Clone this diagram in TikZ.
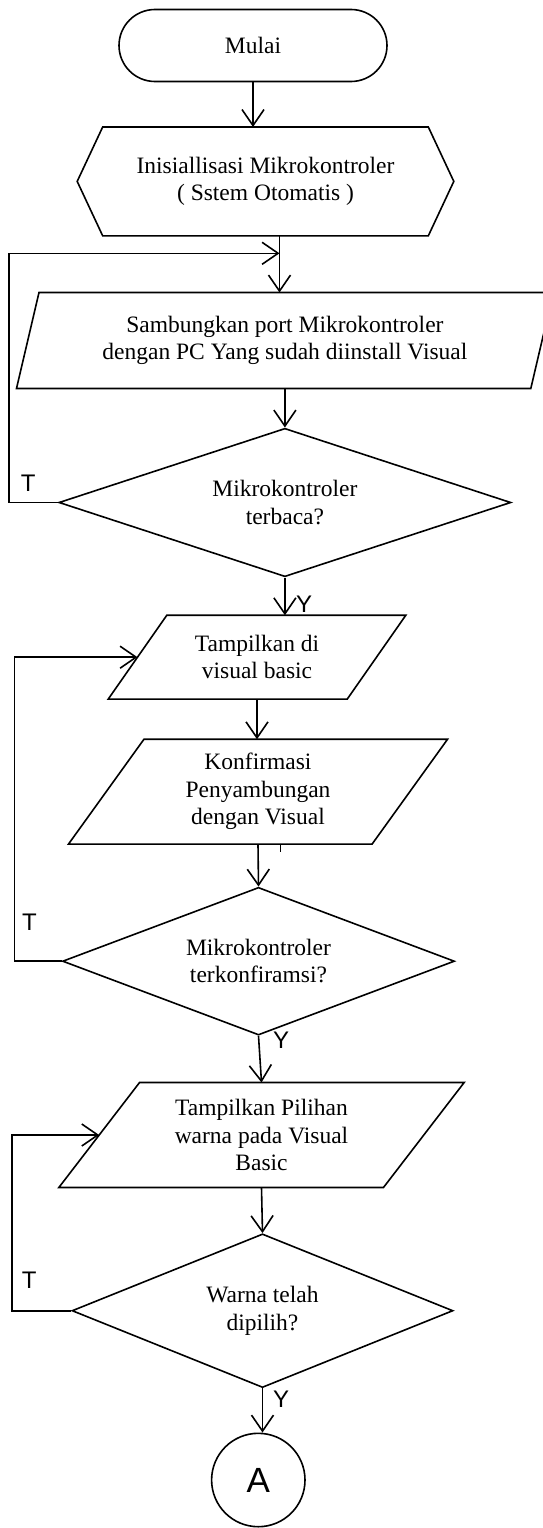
\documentclass[tikz,border=0pt]{standalone}
\usepackage{fontspec}
\setmainfont{Liberation Serif}
\setsansfont{Liberation Sans}
\usepackage{tikz}
\usetikzlibrary{arrows.meta,shapes.geometric,positioning,calc}

% slanted input/output box drawn round a plain node
\newcommand{\ioshape}[2]{\draw ([xshift=#2]#1.north west) -- (#1.north east) -- ([xshift=-#2]#1.south east) -- (#1.south west) -- cycle;}

\begin{document}
\begin{tikzpicture}[x=1pt,y=-1pt,line width=1.6pt,
  every node/.style={inner sep=0pt,align=center,font=\fontsize{23.5}{27.5}\selectfont},
  term/.style={draw,rectangle,rounded corners=36pt},
  box/.style={rectangle},
  decision/.style={draw,diamond,aspect=3},
  conn/.style={draw,circle,font=\sffamily\fontsize{35}{40}\selectfont},
  yt/.style={font=\sffamily\fontsize{24}{28}\selectfont},
  flow/.style={-{Straight Barb[length=16pt,width=22pt]}}]
\clip (0,0) rectangle (543,1528);

\node[term,minimum width=268pt,minimum height=72pt] (start) at (253,45.5) {Mulai};
\node[box,minimum width=375pt,minimum height=107.3pt] (init) at (265.5,181.4) {Inisiallisasi Mikrokontroler\\( Sstem Otomatis )};
\node[box,minimum width=535.2pt,minimum height=94.4pt] (port) at (284.9,340.5) {Sambungkan port Mikrokontroler\\dengan PC Yang sudah diinstall Visual};
\node[decision,minimum width=452pt,minimum height=148.4pt] (cekport) at (284.9,502.5) {Mikrokontroler\\terbaca?};
\node[box,minimum width=296pt,minimum height=82.3pt] (tampil) at (257,657.2) {Tampilkan di\\visual basic};
\node[box,minimum width=377.5pt,minimum height=103.3pt] (konfirm) at (258,791.7) {Konfirmasi\\Penyambungan\\dengan Visual};
\node[decision,minimum width=392pt,minimum height=147.7pt] (cekkonf) at (258.5,961.2) {Mikrokontroler\\terkonfiramsi?};
\node[box,minimum width=403.7pt,minimum height=103.4pt] (pilih) at (261.5,1135) {Tampilkan Pilihan\\warna pada Visual\\Basic};
\node[decision,minimum width=381pt,minimum height=153.7pt] (cekwarna) at (262.5,1310.7) {Warna telah\\dipilih?};
\node[conn,minimum size=93.4pt] (A) at (258.3,1480) {A};

% outlines
\draw (init.west) -- ([xshift=25.5pt]init.north west) -- ([xshift=-25.5pt]init.north east) -- (init.east) -- ([xshift=-25.5pt]init.south east) -- ([xshift=25.5pt]init.south west) -- cycle;
\ioshape{port}{22.5pt}
\ioshape{tampil}{58.6pt}
\ioshape{konfirm}{75.5pt}
\ioshape{pilih}{80.7pt}

% labels
\node[yt] (t1) at (28.3,483) {T};
\node[yt] (t2) at (29.5,922.5) {T};
\node[yt] (t3) at (29.3,1280.5) {T};
\node[yt] (y1) at (304,604) {Y};
\node[yt] (y2) at (281,1040) {Y};
\node[yt] (y3) at (281,1399) {Y};

% loop corners
\coordinate (j1) at (279.5,253.3);
\coordinate (l1) at (8.7,253.3);
\coordinate (l2) at (14.5,657.2);
\coordinate (l3) at (12.1,1135);
\coordinate (tampilL) at ($(tampil.west)+(29.3,0)$);
\coordinate (pilihL) at ($(pilih.west)+(40.35,0)$);

\draw[flow] (start.south) -- (start.south |- init.north);
\draw[flow] (j1 |- init.south) -- (j1 |- port.north);
\draw[flow] (cekport.west) -| (l1) -- (j1);
\draw[flow] (port.south) -- (cekport.north);
\draw[flow] (cekport.south) -- (cekport.south |- tampil.north);
\draw[flow] (tampil.south) -- (tampil.south |- konfirm.north);
\draw[flow] (konfirm.south) -- (cekkonf.north);
\draw[flow] (cekkonf.west) -| (l2) -- (tampilL);
\draw[flow] (cekkonf.south) -- (pilih.north);
\draw[flow] (pilih.south) -- (cekwarna.north);
\draw[flow] (cekwarna.west) -| (l3) -- (pilihL);
\draw[flow] (cekwarna.south) -- (cekwarna.south |- A.north);
\draw[line width=1pt] ([xshift=22pt]konfirm.south) -- ++(0,8);
\end{tikzpicture}
\end{document}
